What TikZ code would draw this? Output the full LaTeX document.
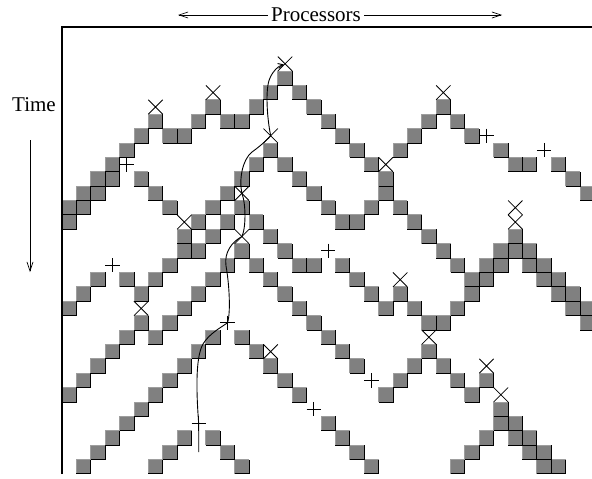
\documentclass[tikz,border=0pt]{standalone}
\usepackage{fontspec}
\setmainfont{Liberation Serif}
\usetikzlibrary{arrows.meta}
\begin{document}
\begin{tikzpicture}[x=1pt,y=-1pt,
  sqfill/.style={fill=black!50},
  sqlite/.style={draw=black!38,line width=0.9pt},
  sqdark/.style={draw=black,line width=0.9pt},
  mk/.style={draw=black,line width=0.8pt},
  axisline/.style={draw=black,line width=1.3pt},
  arr/.style={draw=black,line width=0.7pt,-{Straight Barb[length=9pt,width=6pt]}},
  curveline/.style={draw=black,line width=0.9pt,-{Straight Barb[length=5pt,width=5pt]}},
  lbl/.style={font=\fontsize{21}{25}\selectfont,inner sep=3pt}]
\clip (0,0) rectangle (592,479);
\fill[white] (0,0) rectangle (592,479);
\def\sqlist{0/{15},1/{14,16},2/{10,13,17,26},3/{6,9,11,12,18,25,27},
4/{5,7,8,19,24,28},5/{4,14,20,23,30},6/{3,13,15,21,31,32,34},
7/{2,3,5,12,16,22,35},8/{1,2,6,11,17,22,36},9/{0,1,7,10,12,18,21,23},
10/{0,9,11,13,19,20,24},11/{8,10,14,25,31},12/{8,9,12,15,26,30,31,32},
13/{7,11,13,16,17,19,27,29,30,32,33},14/{2,4,6,10,14,20,28,29,33,34},
15/{1,5,9,15,21,23,28,34,35},16/{0,8,16,22,24,27,35,36},17/{5,7,17,25,26,36},
18/{4,6,10,12,18},19/{3,9,13,19,25},20/{2,8,14,20,24,26},21/{1,7,15,23,27,29},
22/{0,6,16,22,28},23/{5,30},24/{4,18,30,31},25/{3,8,10,19,29,31,32},
26/{2,7,11,20,28,32,33},27/{1,6,12,21,27,33,34}}
% pass 1: fills and light edges
\foreach \rowi/\cs in \sqlist {\foreach \coli in \cs {
  \pgfmathsetmacro\xa{62+\coli*14.39}\pgfmathsetmacro\ya{71+\rowi*14.39}
  \fill[sqfill] (\xa,\ya) rectangle ++(14.39,14.39);
  \draw[sqlite] (\xa,\ya+14.39) -- (\xa,\ya) -- (\xa+14.39,\ya);
}}
% pass 2: dark edges
\foreach \rowi/\cs in \sqlist {\foreach \coli in \cs {
  \pgfmathsetmacro\xa{62+\coli*14.39}\pgfmathsetmacro\ya{71+\rowi*14.39}
  \draw[sqdark] (\xa,\ya+14.39) -- (\xa+14.39,\ya+14.39) -- (\xa+14.39,\ya);
}}
% X markers
\foreach \coli/\rowi in {15/-1,10/1,26/1,6/2,14/4,22/6,12/8,31/9,31/10,8/10,12/11,23/14,5/16,25/18,14/19,29/20,30/22} {
  \pgfmathsetmacro\xa{62+\coli*14.39}\pgfmathsetmacro\ya{71+\rowi*14.39}
  \draw[mk] (\xa,\ya) -- (\xa+14.39,\ya+14.39) (\xa+14.39,\ya) -- (\xa,\ya+14.39);
}
% + markers
\foreach \coli/\rowi in {29/4,33/5,4/6,18/12,3/13,11/17,21/21,17/23,9/24} {
  \pgfmathsetmacro\xa{62+\coli*14.39}\pgfmathsetmacro\ya{71+\rowi*14.39}
  \draw[mk] (\xa+7.2,\ya) -- (\xa+7.2,\ya+14.39) (\xa,\ya+7.2) -- (\xa+14.39,\ya+7.2);
}
% axes
\coordinate (axo) at (62,27);
\coordinate (axb) at (62,474);
\coordinate (axr) at (592,27);
\draw[axisline] (axb) -- (axo) -- (axr);
% labels
\node[lbl] (proc) at (316,15) {Processors};
\coordinate (procL) at (178,15);
\coordinate (procR) at (502,15);
\draw[arr] (proc.west) -- (procL);
\draw[arr] (proc.east) -- (procR);
\node[lbl] (time) at (34,105) {Time};
\coordinate (tA) at (30,140);
\coordinate (tB) at (30,272);
\draw[arr] (tA) -- (tB);
% curve
\coordinate (cstart) at (198.7,452);
\coordinate (P924) at (198.7,423.6);
\coordinate (P1117) at (227.5,322.8);
\coordinate (X1211) at (241.9,236.5);
\coordinate (X128) at (241.9,193.3);
\coordinate (X144) at (270.7,135.8);
\coordinate (X15m1) at (284,64.5);
\draw[curveline] (cstart) -- (P924)
  .. controls (196.5,395) and (195,358) .. (203,344)
  .. controls (209,334) and (220,328) .. (P1117)
  .. controls (231,312) and (229,282) .. (226,266)
  .. controls (224,252) and (232,242) .. (X1211)
  .. controls (246,228) and (246,204) .. (X128)
  .. controls (239,180) and (242,160) .. (252,152)
  .. controls (259,147) and (266,141) .. (X144)
  .. controls (267,118) and (265,88) .. (270,78)
  .. controls (273,71) and (278,66) .. (X15m1);
\end{tikzpicture}
\end{document}
